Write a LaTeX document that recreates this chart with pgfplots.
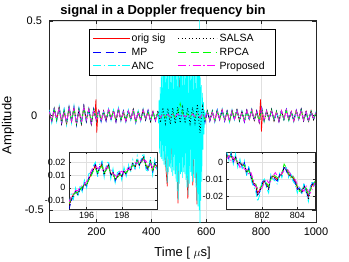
\documentclass[border=0pt]{standalone}
\usepackage{fontspec}
\setmainfont{Liberation Sans}
\usepackage{pgfplots}
\pgfplotsset{compat=1.18}
\usepackage{pgfplotstable}

\definecolor{axgray}{rgb}{0.15,0.15,0.15}
\definecolor{gridgray}{rgb}{0.88,0.88,0.88}
\definecolor{mred}{rgb}{1,0,0}
\definecolor{mblue}{rgb}{0,0,1}
\definecolor{mcyan}{rgb}{0,1,1}
\definecolor{mgreen}{rgb}{0,1,0}
\definecolor{mmag}{rgb}{1,0,1}

\pgfplotstableread{
x r b c k g m
28 0.018 0.026 0.031 0.022 0.015 0.020
37 -0.035 -0.030 -0.041 -0.033 -0.026 -0.028
46 0.030 0.042 0.036 0.038 0.033 0.034
55 -0.019 -0.027 -0.033 -0.024 -0.021 -0.018
64 0.044 0.040 0.052 0.047 0.035 0.041
73 -0.040 -0.045 -0.038 -0.042 -0.029 -0.036
82 0.024 0.033 0.036 0.028 0.025 0.022
91 -0.047 -0.043 -0.052 -0.045 -0.037 -0.041
100 0.043 0.052 0.049 0.047 0.042 0.046
109 -0.034 -0.031 -0.042 -0.036 -0.027 -0.029
118 0.046 0.043 0.053 0.041 0.037 0.040
127 -0.043 -0.052 -0.048 -0.047 -0.041 -0.046
136 0.029 0.037 0.041 0.033 0.028 0.031
145 -0.045 -0.041 -0.053 -0.044 -0.034 -0.039
154 0.048 0.052 0.046 0.050 0.041 0.044
163 -0.026 -0.033 -0.037 -0.029 -0.020 -0.024
172 0.038 0.036 0.047 0.041 0.031 0.034
181 -0.044 -0.048 -0.043 -0.046 -0.035 -0.041
190 0.028 0.037 0.042 0.033 0.025 0.029
199 -0.024 -0.022 -0.031 -0.026 -0.017 -0.021
208 0.027 0.031 0.024 0.029 0.022 0.025
217 -0.028 -0.034 -0.036 -0.031 -0.026 -0.030
226 0.023 0.019 0.027 0.024 0.017 0.021
235 -0.027 -0.031 -0.025 -0.029 -0.022 -0.024
244 0.033 0.029 0.037 0.035 0.027 0.031
253 -0.018 -0.024 -0.026 -0.022 -0.017 -0.019
262 0.028 0.025 0.031 0.027 0.022 0.026
271 -0.031 -0.035 -0.029 -0.033 -0.027 -0.030
280 0.036 0.039 0.042 0.034 0.031 0.034
289 -0.027 -0.024 -0.031 -0.028 -0.021 -0.025
298 0.021 0.026 0.024 0.023 0.019 0.020
307 -0.032 -0.029 -0.036 -0.034 -0.026 -0.031
316 0.024 0.029 0.031 0.027 0.022 0.025
325 -0.023 -0.019 -0.025 -0.021 -0.018 -0.020
334 0.031 0.034 0.029 0.033 0.027 0.030
343 -0.034 -0.038 -0.041 -0.036 -0.031 -0.035
352 0.019 0.024 0.026 0.022 0.017 0.020
361 -0.027 -0.023 -0.031 -0.026 -0.022 -0.025
370 0.032 0.028 0.036 0.034 0.027 0.030
379 -0.021 -0.025 -0.019 -0.023 -0.017 -0.020
388 0.024 0.029 0.031 0.026 0.021 0.025
397 -0.032 -0.028 -0.035 -0.031 -0.027 -0.030
406 0.022 0.018 0.026 0.024 0.017 0.020
415 -0.026 -0.029 -0.024 -0.028 -0.021 -0.025
424 0.014 0.022 0.000 0.026 0.016 0.015
433 -0.012 -0.025 0.000 -0.038 -0.013 -0.010
442 0.010 0.027 0.000 0.042 0.012 0.008
451 -0.008 -0.022 0.000 -0.044 -0.010 -0.006
460 0.009 0.028 0.000 0.039 0.011 0.007
469 -0.010 -0.026 0.000 -0.046 -0.012 -0.008
478 0.008 0.024 0.000 0.041 0.010 0.006
487 -0.009 -0.029 0.000 -0.043 -0.011 -0.007
496 0.011 0.025 0.000 0.044 0.014 0.009
505 -0.008 -0.027 0.000 -0.040 0.065 -0.006
514 0.009 0.023 0.000 0.045 0.010 0.007
523 -0.010 -0.028 0.000 -0.042 -0.012 -0.008
532 0.008 0.026 0.000 0.040 0.009 0.006
541 -0.009 -0.024 0.000 -0.045 -0.011 -0.007
550 0.010 0.029 0.000 0.043 0.012 0.008
559 -0.008 -0.025 0.000 -0.041 -0.010 -0.006
568 0.012 0.027 0.000 0.060 0.013 0.010
577 -0.014 -0.030 0.000 -0.092 -0.015 -0.012
586 0.010 0.024 0.000 0.048 0.011 0.008
595 -0.017 -0.042 0.000 -0.035 -0.018 -0.015
604 0.021 0.026 0.028 0.024 0.019 0.020
613 -0.027 -0.031 -0.025 -0.029 -0.023 -0.025
622 0.022 0.019 0.026 0.024 0.018 0.020
631 -0.033 -0.029 -0.036 -0.031 -0.027 -0.030
640 0.026 0.031 0.028 0.029 0.022 0.025
649 -0.021 -0.024 -0.019 -0.023 -0.018 -0.020
658 0.032 0.029 0.036 0.034 0.027 0.030
667 -0.027 -0.031 -0.024 -0.029 -0.022 -0.025
676 0.021 0.025 0.024 0.023 0.018 0.020
685 -0.032 -0.029 -0.036 -0.034 -0.027 -0.030
694 0.027 0.024 0.031 0.029 0.022 0.025
703 -0.021 -0.025 -0.023 -0.019 -0.018 -0.020
712 0.031 0.034 0.029 0.033 0.027 0.030
721 -0.026 -0.023 -0.031 -0.028 -0.022 -0.025
730 0.022 0.019 0.025 0.024 0.018 0.020
739 -0.031 -0.035 -0.029 -0.033 -0.027 -0.030
748 0.026 0.029 0.024 0.028 0.022 0.025
757 -0.021 -0.018 -0.024 -0.023 -0.017 -0.020
766 0.032 0.028 0.035 0.031 0.027 0.030
775 -0.026 -0.029 -0.024 -0.028 -0.021 -0.025
784 0.021 0.025 0.019 0.023 0.018 0.020
793 -0.036 -0.033 -0.039 -0.037 -0.031 -0.035
802 0.039 0.044 0.042 0.041 0.036 0.040
811 -0.031 -0.028 -0.034 -0.029 -0.027 -0.030
820 0.026 0.023 0.029 0.027 0.022 0.025
829 -0.021 -0.024 -0.019 -0.023 -0.018 -0.020
838 0.031 0.028 0.034 0.033 0.027 0.030
847 -0.026 -0.029 -0.024 -0.028 -0.022 -0.025
856 0.021 0.019 0.024 0.022 0.018 0.020
865 -0.031 -0.034 -0.029 -0.033 -0.027 -0.030
874 0.026 0.023 0.029 0.028 0.022 0.025
883 -0.021 -0.019 -0.024 -0.022 -0.017 -0.020
892 0.031 0.034 0.029 0.033 0.026 0.030
901 -0.026 -0.023 -0.029 -0.028 -0.022 -0.025
910 0.021 0.024 0.019 0.023 0.018 0.020
919 -0.031 -0.028 -0.034 -0.033 -0.027 -0.030
928 0.026 0.029 0.024 0.028 0.022 0.025
937 -0.021 -0.018 -0.024 -0.022 -0.017 -0.020
946 0.031 0.034 0.029 0.033 0.027 0.030
955 -0.026 -0.029 -0.024 -0.027 -0.022 -0.025
964 0.021 0.018 0.024 0.023 0.017 0.020
973 -0.031 -0.034 -0.029 -0.033 -0.026 -0.030
982 0.026 0.023 0.029 0.027 0.022 0.025
991 -0.021 -0.024 -0.019 -0.022 -0.018 -0.020
1000 0.016 0.019 0.021 0.018 0.013 0.015
}\maintab

\pgfplotstableread{
x r b c k g m
195.000 -0.013 -0.017 -0.012 -0.016 -0.012 -0.011
195.125 -0.009 -0.010 -0.005 -0.009 -0.008 -0.007
195.250 -0.005 -0.007 -0.009 -0.006 -0.005 -0.004
195.375 -0.003 -0.002 0.000 -0.003 -0.004 -0.002
195.500 -0.004 -0.006 -0.007 -0.005 -0.003 -0.002
195.625 -0.001 0.000 0.002 -0.001 -0.002 0.000
195.750 0.000 -0.002 -0.003 -0.001 0.001 0.002
195.875 0.003 0.004 0.006 0.003 0.002 0.003
196.000 0.002 0.001 0.000 0.002 0.003 0.005
196.125 0.007 0.008 0.011 0.007 0.006 0.008
196.250 0.010 0.009 0.012 0.011 0.009 0.013
196.375 0.014 0.015 0.017 0.014 0.013 0.016
196.500 0.017 0.019 0.020 0.018 0.015 0.018
196.625 0.011 0.010 0.008 0.011 0.012 0.015
196.750 0.016 0.017 0.019 0.016 0.015 0.016
196.875 0.018 0.020 0.021 0.019 0.017 0.014
197.000 0.011 0.010 0.008 0.010 0.012 0.013
197.125 0.015 0.016 0.018 0.015 0.014 0.016
197.250 0.018 0.019 0.021 0.018 0.017 0.015
197.375 0.010 0.009 0.007 0.010 0.011 0.014
197.500 0.012 0.013 0.015 0.012 0.011 0.011
197.625 0.006 0.005 0.004 0.006 0.007 0.010
197.750 0.009 0.010 0.012 0.009 0.008 0.008
197.875 0.011 0.012 0.013 0.011 0.010 0.012
198.000 0.009 0.008 0.006 0.009 0.010 0.013
198.125 0.013 0.014 0.016 0.013 0.012 0.011
198.250 0.011 0.010 0.009 0.011 0.012 0.015
198.375 0.015 0.016 0.018 0.015 0.014 0.014
198.500 0.014 0.013 0.012 0.014 0.015 0.017
198.625 0.019 0.020 0.022 0.019 0.018 0.018
198.750 0.016 0.015 0.014 0.016 0.017 0.020
198.875 0.022 0.023 0.025 0.022 0.021 0.019
199.000 0.018 0.017 0.016 0.018 0.019 0.022
199.125 0.021 0.022 0.024 0.021 0.020 0.020
199.250 0.024 0.025 0.027 0.024 0.023 0.022
199.375 0.017 0.016 0.014 0.017 0.018 0.021
199.500 0.015 0.014 0.013 0.015 0.016 0.017
199.625 0.021 0.022 0.024 0.021 0.020 0.019
199.750 0.013 0.012 0.010 0.013 0.014 0.016
199.875 0.019 0.020 0.022 0.019 0.018 0.015
200.000 0.016 0.015 0.014 0.016 0.017 0.018
}\insetA

\pgfplotstableread{
x r b c k g m
800.000 0.004 0.005 0.006 0.004 0.003 0.002
800.125 0.003 0.002 0.001 0.003 0.004 0.004
800.250 0.004 0.005 0.006 0.005 0.003 0.001
800.375 0.001 0.000 -0.001 0.001 0.002 0.003
800.500 0.003 0.004 0.005 0.003 0.002 0.000
800.625 -0.001 -0.002 -0.003 -0.001 0.000 0.001
800.750 0.000 0.001 0.002 0.000 -0.001 -0.003
800.875 -0.002 -0.003 -0.004 -0.002 -0.001 -0.001
801.000 -0.001 0.000 0.001 -0.001 -0.002 -0.004
801.125 -0.006 -0.007 -0.008 -0.006 -0.005 -0.004
801.250 -0.004 -0.003 -0.002 -0.004 -0.005 -0.007
801.375 -0.008 -0.009 -0.010 -0.008 -0.007 -0.006
801.500 -0.012 -0.013 -0.014 -0.012 -0.011 -0.010
801.625 -0.013 -0.014 -0.016 -0.013 -0.012 -0.014
801.750 -0.018 -0.020 -0.023 -0.019 -0.016 -0.015
801.875 -0.016 -0.017 -0.019 -0.017 -0.015 -0.017
802.000 -0.013 -0.012 -0.011 -0.013 -0.014 -0.015
802.125 -0.011 -0.010 -0.009 -0.011 -0.012 -0.012
802.250 -0.013 -0.014 -0.015 -0.013 -0.012 -0.010
802.375 -0.015 -0.016 -0.018 -0.016 -0.014 -0.012
802.500 -0.009 -0.008 -0.007 -0.009 -0.010 -0.011
802.625 -0.008 -0.009 -0.010 -0.008 -0.007 -0.008
802.750 -0.009 -0.010 -0.011 -0.009 -0.008 -0.006
802.875 -0.010 -0.011 -0.013 -0.010 -0.009 -0.008
803.000 -0.008 -0.007 -0.006 -0.008 -0.009 -0.009
803.125 -0.007 -0.008 -0.009 -0.007 -0.006 -0.006
803.250 -0.003 -0.002 -0.004 -0.003 -0.001 -0.005
803.375 -0.004 -0.005 -0.003 -0.004 -0.003 -0.003
803.500 -0.007 -0.008 -0.009 -0.007 -0.006 -0.005
803.625 -0.008 -0.007 -0.006 -0.008 -0.009 -0.007
803.750 -0.009 -0.010 -0.011 -0.009 -0.008 -0.008
803.875 -0.011 -0.012 -0.013 -0.011 -0.010 -0.010
804.000 -0.015 -0.016 -0.018 -0.015 -0.014 -0.013
804.125 -0.016 -0.015 -0.014 -0.016 -0.017 -0.015
804.250 -0.017 -0.018 -0.019 -0.018 -0.016 -0.016
804.375 -0.014 -0.013 -0.012 -0.014 -0.015 -0.017
804.500 -0.016 -0.017 -0.018 -0.016 -0.015 -0.014
804.625 -0.020 -0.021 -0.023 -0.022 -0.019 -0.017
804.750 -0.015 -0.014 -0.013 -0.015 -0.016 -0.018
804.875 -0.013 -0.012 -0.011 -0.013 -0.014 -0.015
805.000 -0.012 -0.013 -0.014 -0.012 -0.011 -0.012
}\insetB

\pgfplotsset{
  sred/.style={draw=mred, solid, line width=0.7pt},
  sblue/.style={draw=mblue, dash pattern=on 6bp off 3bp, line width=0.7pt},
  scyan/.style={draw=mcyan, dash pattern=on 6bp off 2.5bp on 1.2bp off 2.5bp, line width=0.7pt},
  sblack/.style={draw=black, dash pattern=on 1bp off 2bp, line width=0.7pt},
  sgreen/.style={draw=mgreen, dash pattern=on 6bp off 3bp, line width=0.7pt},
  smag/.style={draw=mmag, dash pattern=on 6bp off 2.5bp on 1.2bp off 2.5bp, line width=0.7pt},
  mstyle/.style={
    scale only axis,
    axis line style={axgray, line width=0.5pt},
    tick style={axgray, line width=0.5pt},
    tick align=inside,
    xtick pos=both, ytick pos=both,
    grid=major,
    major grid style={gridgray, line width=0.4pt},
    /pgf/number format/assume math mode=true,
    scaled x ticks=false, scaled y ticks=false,
    tick label style={text=black},
    clip=true,
  }
}

\begin{document}
\begin{tikzpicture}
\useasboundingbox (0bp,0bp) rectangle (349bp,262bp);

\node[font=\bfseries\fontsize{13bp}{15bp}\selectfont, anchor=base, text=black] at (163bp,247.5bp) {signal in a Doppler frequency bin};

\begin{axis}[mstyle,
  at={(49.3bp,39.3bp)}, anchor=south west,
  width=266.7bp, height=202.7bp,
  xmin=28, xmax=1000, ymin=-0.567, ymax=0.505,
  xtick={200,400,600,800,1000}, xticklabels={200,400,600,800,1000},
  ytick={-0.5,0,0.5}, yticklabels={-0.5,0,{}},
  major tick length=3.5bp,
  tick label style={font=\fontsize{11bp}{13bp}\selectfont},
  yticklabel style={anchor=center, xshift=-15bp},
  xticklabel style={yshift=-2bp},
  xlabel={Time [ $\mu$s]},
  ylabel={Amplitude},
  xlabel style={font=\fontsize{13bp}{15bp}\selectfont, at={(axis description cs:0.5,-0.169)}, anchor=base},
  ylabel style={font=\fontsize{13bp}{15bp}\selectfont, at={(axis description cs:-0.155,0.48)}, anchor=center},
]
\addplot[sred] table[x=x, y=r] {\maintab};
\addplot[sred] coordinates {(194,0.0) (198,0.085) (201,-0.09) (205,0.0)};
\addplot[sred] coordinates {(794,0.0) (798,0.085) (801,-0.085) (805,0.0)};
\addplot[sred] coordinates {(436,0.01) (449,-0.2) (458,-0.375) (467,0.05) (476,-0.25) (485,0.1) (494,-0.3) (497,-0.465) (503,0.2) (512,-0.2) (521,0.05) (530,-0.3) (533,-0.44) (542,0.05) (551,-0.37) (560,0.05) (566,-0.47) (572,0.02) (577,-0.3) (586,0.02) (595,-0.02)};
\addplot[sblue] table[x=x, y=b] {\maintab};
\addplot[scyan] table[x=x, y=c] {\maintab};
\addplot[draw=mcyan, solid, line width=0.6pt] coordinates {
(424,0.02) (426,-0.04) (428,0.08) (430,-0.2) (432,0.15) (434,-0.22) (436,0.21) (438,-0.23)
(440,0.24) (442,-0.24) (444,0.25) (446,-0.26) (448,0.24) (450,-0.27) (452,0.26) (454,-0.3)
(456,0.25) (458,-0.355) (460,0.26) (462,-0.3) (464,0.25) (466,-0.27) (468,0.26) (470,-0.28)
(472,0.25) (474,-0.3) (476,0.26) (478,-0.32) (480,0.27) (482,-0.29) (484,0.26) (486,-0.31)
(488,0.27) (490,-0.35) (492,0.26) (494,-0.4) (496,0.27) (498,-0.445) (500,0.26) (502,-0.36)
(504,0.27) (506,-0.31) (508,0.26) (510,-0.3) (512,0.27) (514,-0.33) (516,0.26) (518,-0.3)
(520,0.27) (522,-0.31) (524,0.26) (526,-0.34) (528,0.27) (530,-0.38) (532,0.26) (534,-0.42)
(536,0.27) (538,-0.36) (540,0.26) (542,-0.3) (544,0.27) (546,-0.32) (548,0.26) (550,-0.35)
(552,0.27) (554,-0.31) (556,0.26) (558,-0.33) (560,0.25) (562,-0.38) (564,0.25) (566,-0.45)
(568,0.24) (570,-0.48) (572,0.23) (574,-0.5) (576,0.6) (577,-0.65) (578,0.2) (580,-0.45)
(582,0.16) (584,-0.35) (586,0.12) (588,-0.18) (590,0.07) (592,-0.1) (594,0.03) (596,-0.02)};
\addplot[sblack] table[x=x, y=k] {\maintab};
\addplot[sgreen] table[x=x, y=g] {\maintab};
\addplot[smag] table[x=x, y=m] {\maintab};
\end{axis}

% legend (drawn as a framed key over the main axis)
\begin{scope}[font=\fontsize{10.5bp}{12bp}\selectfont]
\draw[black, line width=0.5pt, fill=white] (89bp,187bp) rectangle (275bp,233bp);
\draw[mred, solid, line width=0.9pt] (93bp,223.7bp) -- (130bp,223.7bp);
\draw[mblue, dash pattern=on 8bp off 4.5bp, line width=0.9pt] (93bp,210bp) -- (130bp,210bp);
\draw[mcyan, dash pattern=on 8bp off 2.5bp on 1.5bp off 2.5bp, line width=0.9pt] (93bp,196.3bp) -- (130bp,196.3bp);
\draw[black, dash pattern=on 1bp off 2.5bp, line width=0.9pt] (178bp,223.7bp) -- (216.5bp,223.7bp);
\draw[mgreen, dash pattern=on 8bp off 4.5bp, line width=0.9pt] (178bp,210bp) -- (216.5bp,210bp);
\draw[mmag, dash pattern=on 8bp off 2.5bp on 1.5bp off 2.5bp, line width=0.9pt] (178bp,196.3bp) -- (216.5bp,196.3bp);
\node[anchor=base west, inner sep=0pt, text=black] at (131.5bp,220bp) {orig sig};
\node[anchor=base west, inner sep=0pt, text=black] at (131.5bp,206.3bp) {MP};
\node[anchor=base west, inner sep=0pt, text=black] at (131.5bp,192.6bp) {ANC};
\node[anchor=base west, inner sep=0pt, text=black] at (219.5bp,220bp) {SALSA};
\node[anchor=base west, inner sep=0pt, text=black] at (219.5bp,206.3bp) {RPCA};
\node[anchor=base west, inner sep=0pt, text=black] at (219.5bp,192.6bp) {Proposed};
\end{scope}

\begin{axis}[mstyle,
  at={(69bp,53bp)}, anchor=south west,
  width=88bp, height=57bp,
  axis background/.style={fill=white},
  xmin=195, xmax=200, ymin=-0.0165, ymax=0.028,
  xtick={196,198}, xticklabels={196,198},
  ytick={-0.01,0,0.01,0.02}, yticklabels={-0.01,0,0.01,0.02},
  major tick length=2bp,
  tick label style={font=\fontsize{9bp}{10bp}\selectfont},
]
\addplot[sred, line width=0.8pt] table[x=x, y=r] {\insetA};
\addplot[sblue, line width=0.8pt] table[x=x, y=b] {\insetA};
\addplot[scyan, line width=0.8pt] table[x=x, y=c] {\insetA};
\addplot[sblack, line width=0.8pt] table[x=x, y=k] {\insetA};
\addplot[sgreen, line width=0.8pt] table[x=x, y=g] {\insetA};
\addplot[smag, line width=0.8pt] table[x=x, y=m] {\insetA};
\end{axis}

\begin{axis}[mstyle,
  at={(226.7bp,53bp)}, anchor=south west,
  width=88.3bp, height=57bp,
  axis background/.style={fill=white},
  xmin=800, xmax=805, ymin=-0.0274, ymax=0.0061,
  xtick={802,804}, xticklabels={802,804},
  ytick={-0.02,-0.01,0}, yticklabels={-0.02,-0.01,0},
  major tick length=2bp,
  tick label style={font=\fontsize{9bp}{10bp}\selectfont},
]
\addplot[sred, line width=0.8pt] table[x=x, y=r] {\insetB};
\addplot[sblue, line width=0.8pt] table[x=x, y=b] {\insetB};
\addplot[scyan, line width=0.8pt] table[x=x, y=c] {\insetB};
\addplot[sblack, line width=0.8pt] table[x=x, y=k] {\insetB};
\addplot[sgreen, line width=0.8pt] table[x=x, y=g] {\insetB};
\addplot[smag, line width=0.8pt] table[x=x, y=m] {\insetB};
\end{axis}

\node[font=\fontsize{11bp}{13bp}\selectfont, anchor=center, text=black] at (34.3bp,241.2bp) {0.5};
\end{tikzpicture}
\end{document}
